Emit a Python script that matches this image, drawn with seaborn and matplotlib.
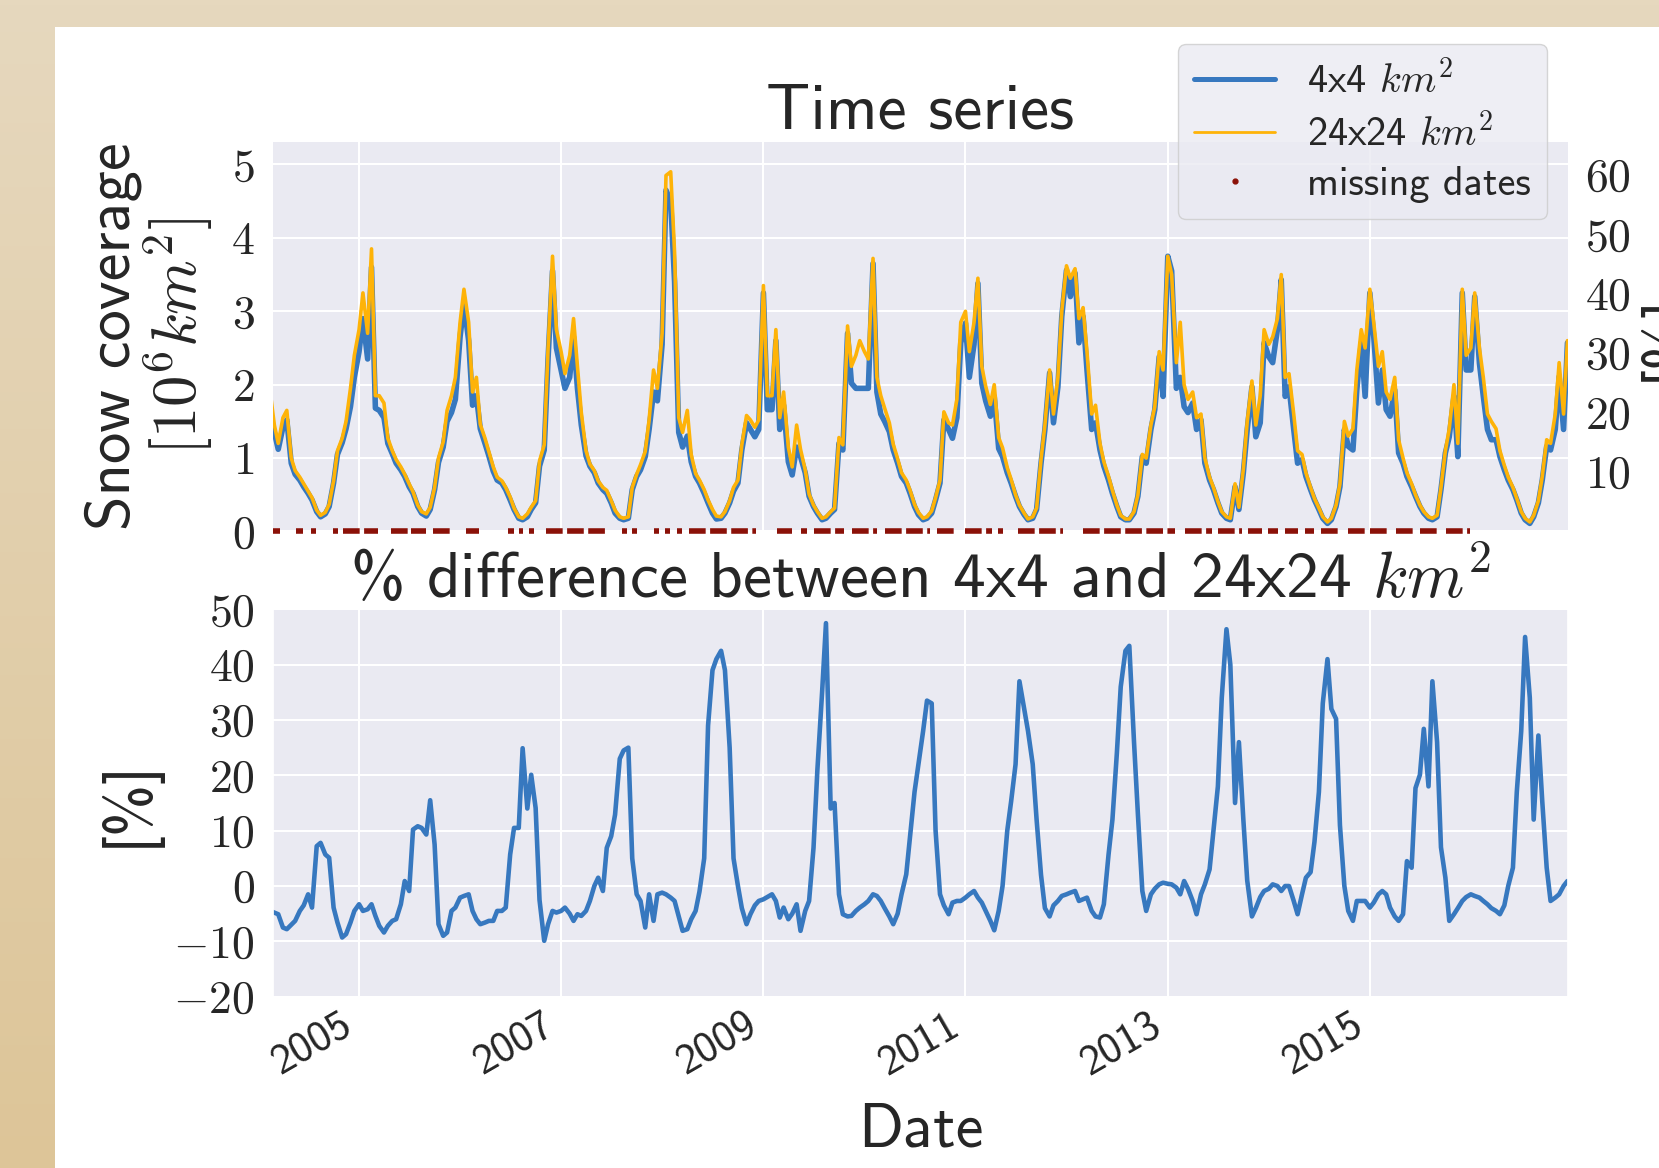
import numpy as np
import pandas as pd
import matplotlib
matplotlib.use("Agg")
import matplotlib.pyplot as plt
from matplotlib.lines import Line2D
from matplotlib.patches import Rectangle
import seaborn as sns

# ------------------------------------------------------------------ data
# semi-monthly samples (1st and 15th of each month)
dates = pd.date_range("2004-02-15", "2016-12-15", freq="SMS")

snow_24x24 = [
    # 2004 (from Feb 15)
    1.90, 1.45, 1.20, 1.55, 1.65, 1.00, 0.83, 0.74, 0.65, 0.55, 0.46, 0.29, 0.22, 0.26, 0.37, 0.69, 1.10, 1.27, 1.50, 1.95, 2.40,
    # 2005
    2.75, 3.25, 2.70, 3.85, 1.85, 1.85, 1.75, 1.27, 1.10, 0.98, 0.88, 0.78, 0.65, 0.54, 0.36, 0.27, 0.24, 0.33, 0.60, 1.00, 1.22, 1.65, 1.85, 2.10,
    # 2006
    2.85, 3.30, 2.85, 1.90, 2.10, 1.46, 1.27, 1.09, 0.88, 0.74, 0.69, 0.60, 0.47, 0.32, 0.20, 0.18, 0.24, 0.33, 0.42, 0.96, 1.18, 2.50, 3.75, 2.75,
    # 2007
    2.45, 2.15, 2.40, 2.90, 2.25, 1.62, 1.10, 0.92, 0.83, 0.69, 0.60, 0.56, 0.42, 0.29, 0.20, 0.18, 0.20, 0.60, 0.78, 0.91, 1.09, 1.52, 2.20, 1.95,
    # 2008
    2.70, 4.85, 4.90, 3.80, 1.55, 1.35, 1.65, 1.05, 0.79, 0.70, 0.57, 0.43, 0.30, 0.21, 0.20, 0.27, 0.42, 0.60, 0.70, 1.18, 1.58, 1.52, 1.42, 1.52,
    # 2009
    3.35, 1.85, 1.85, 2.75, 1.55, 1.90, 1.15, 0.88, 1.45, 1.12, 0.84, 0.51, 0.36, 0.27, 0.18, 0.20, 0.27, 0.32, 1.28, 1.18, 2.80, 2.25, 2.40, 2.60,
    # 2010
    2.45, 2.35, 3.72, 2.10, 1.85, 1.68, 1.48, 1.19, 0.99, 0.80, 0.70, 0.56, 0.37, 0.26, 0.18, 0.20, 0.28, 0.46, 0.70, 1.63, 1.48, 1.45, 1.80, 2.85,
    # 2011
    3.00, 2.45, 2.85, 3.45, 2.25, 1.98, 1.73, 2.00, 1.28, 1.14, 0.87, 0.71, 0.50, 0.36, 0.25, 0.17, 0.20, 0.32, 0.98, 1.45, 2.20, 1.60, 2.10, 3.00,
    # 2012
    3.62, 3.45, 3.58, 2.90, 3.05, 2.45, 1.60, 1.72, 1.20, 0.95, 0.75, 0.56, 0.36, 0.22, 0.17, 0.17, 0.27, 0.50, 1.05, 1.00, 1.45, 1.70, 2.45, 2.20,
    # 2013
    3.75, 3.50, 2.30, 2.85, 2.00, 1.80, 1.90, 1.55, 1.60, 1.00, 0.74, 0.60, 0.41, 0.27, 0.20, 0.18, 0.65, 0.33, 0.85, 1.50, 2.05, 1.45, 1.85, 2.75,
    # 2014
    2.55, 2.65, 2.90, 3.50, 2.10, 2.15, 1.60, 1.10, 1.05, 0.80, 0.60, 0.45, 0.32, 0.20, 0.13, 0.18, 0.36, 0.65, 1.50, 1.30, 1.40, 2.20, 2.75, 2.50,
    # 2015
    3.30, 2.85, 2.25, 2.45, 1.90, 1.80, 2.10, 1.25, 1.00, 0.80, 0.65, 0.50, 0.36, 0.27, 0.20, 0.18, 0.22, 0.60, 1.10, 1.40, 2.00, 1.20, 3.30, 2.40,
    # 2016
    2.50, 3.25, 2.50, 2.10, 1.60, 1.50, 1.40, 1.10, 0.90, 0.74, 0.60, 0.45, 0.27, 0.18, 0.13, 0.22, 0.42, 0.75, 1.25, 1.20, 1.60, 2.30, 1.60, 2.60,
]

snow_4x4 = [
    # 2004 (from Feb 15)
    1.50, 1.35, 1.12, 1.42, 1.52, 0.93, 0.78, 0.70, 0.61, 0.52, 0.43, 0.27, 0.20, 0.24, 0.34, 0.66, 1.05, 1.21, 1.40, 1.70, 2.10,
    # 2005
    2.45, 2.90, 2.35, 3.60, 1.68, 1.65, 1.55, 1.20, 1.06, 0.93, 0.84, 0.75, 0.61, 0.52, 0.34, 0.25, 0.21, 0.30, 0.57, 0.94, 1.15, 1.50, 1.62, 1.80,
    # 2006
    2.65, 3.10, 2.60, 1.72, 1.85, 1.40, 1.20, 1.03, 0.82, 0.70, 0.66, 0.57, 0.43, 0.30, 0.18, 0.16, 0.20, 0.30, 0.39, 0.89, 1.11, 2.36, 3.55, 2.50,
    # 2007
    2.20, 1.95, 2.10, 2.65, 1.95, 1.45, 1.03, 0.89, 0.80, 0.66, 0.57, 0.52, 0.39, 0.25, 0.18, 0.16, 0.18, 0.57, 0.75, 0.84, 1.02, 1.39, 1.90, 1.78,
    # 2008
    2.55, 4.65, 4.50, 3.40, 1.35, 1.15, 1.30, 0.95, 0.75, 0.66, 0.52, 0.39, 0.25, 0.17, 0.18, 0.25, 0.39, 0.55, 0.66, 1.11, 1.48, 1.39, 1.29, 1.39,
    # 2009
    3.25, 1.66, 1.66, 2.60, 1.39, 1.72, 0.95, 0.77, 1.15, 1.02, 0.80, 0.48, 0.34, 0.25, 0.16, 0.18, 0.25, 0.30, 1.20, 1.11, 2.70, 2.02, 1.95, 1.95,
    # 2010
    1.95, 1.95, 3.65, 1.90, 1.60, 1.50, 1.36, 1.11, 0.93, 0.75, 0.66, 0.52, 0.34, 0.23, 0.16, 0.18, 0.25, 0.43, 0.66, 1.52, 1.39, 1.27, 1.55, 2.57,
    # 2011
    2.84, 2.10, 2.55, 3.38, 2.02, 1.78, 1.57, 1.84, 1.13, 1.02, 0.80, 0.66, 0.48, 0.34, 0.23, 0.16, 0.18, 0.30, 0.93, 1.39, 2.16, 1.48, 1.97, 2.93,
    # 2012
    3.56, 3.20, 3.52, 2.57, 2.93, 2.20, 1.39, 1.48, 1.11, 0.89, 0.70, 0.52, 0.34, 0.20, 0.16, 0.16, 0.25, 0.48, 1.02, 0.93, 1.39, 1.66, 2.38, 1.84,
    # 2013
    3.75, 3.55, 1.95, 2.10, 1.70, 1.62, 1.75, 1.39, 1.52, 0.93, 0.70, 0.57, 0.39, 0.25, 0.18, 0.16, 0.61, 0.30, 0.80, 1.39, 1.97, 1.29, 1.48, 2.57,
    # 2014
    2.38, 2.30, 2.75, 3.43, 1.84, 1.97, 1.39, 0.93, 0.98, 0.75, 0.57, 0.43, 0.30, 0.18, 0.11, 0.16, 0.34, 0.61, 1.39, 1.16, 1.11, 1.93, 2.57, 1.84,
    # 2015
    3.25, 2.66, 1.75, 2.20, 1.66, 1.57, 1.93, 1.07, 0.93, 0.75, 0.61, 0.48, 0.34, 0.25, 0.18, 0.16, 0.20, 0.57, 1.07, 1.29, 1.84, 1.02, 3.25, 2.20,
    # 2016
    2.20, 3.20, 2.29, 1.84, 1.39, 1.25, 1.25, 1.02, 0.84, 0.70, 0.57, 0.43, 0.25, 0.16, 0.11, 0.20, 0.39, 0.70, 1.16, 1.11, 1.39, 2.11, 1.39, 2.57,
]

pct_diff = [
    # 2004 (from Feb 15)
    -4.5, -4.8, -5.1, -7.5, -7.8, -7.0, -6.3, -4.5, -3.5, -1.5, -3.9, 7.2, 7.8, 5.7, 5.1, -3.9, -6.6, -9.3, -8.7, -6.6, -4.5,
    # 2005
    -3.3, -4.5, -4.2, -3.3, -5.4, -7.2, -8.4, -7.2, -6.3, -6.0, -3.3, 0.9, -0.9, 10.2, 10.8, 10.5, 9.3, 15.5, 7.5, -6.9, -9.0, -8.4, -4.5, -3.9,
    # 2006
    -2.1, -1.8, -1.5, -4.5, -6.0, -6.9, -6.6, -6.3, -6.3, -4.5, -4.5, -3.9, 5.7, 10.5, 10.5, 24.9, 14.0, 20.1, 14.1, -2.5, -9.9, -6.9, -4.5, -4.8,
    # 2007
    -4.5, -3.9, -5.0, -6.3, -5.1, -5.4, -4.5, -2.7, 0.0, 1.5, -0.9, 6.9, 9.0, 12.9, 23.0, 24.5, 25.0, 5.0, -1.5, -2.7, -7.5, -1.5, -6.3, -1.5,
    # 2008
    -1.2, -1.5, -2.1, -2.7, -5.5, -8.1, -7.8, -6.0, -4.5, -1.0, 5.0, 29.0, 39.0, 41.0, 42.5, 39.0, 25.0, 5.0, 0.0, -4.0, -6.9, -5.1, -3.5, -2.7,
    # 2009
    -2.4, -2.0, -1.5, -2.7, -5.7, -3.9, -6.0, -5.0, -3.3, -8.1, -4.5, -2.7, 6.9, 21.0, 35.0, 47.5, 14.0, 15.0, -1.5, -5.1, -5.5, -5.4, -4.5, -3.9,
    # 2010
    -3.3, -2.7, -1.5, -1.8, -2.7, -4.0, -5.5, -6.9, -5.0, -1.5, 2.1, 9.0, 17.0, 22.0, 28.0, 33.5, 33.0, 10.0, -1.5, -3.5, -5.1, -3.0, -2.7, -2.7,
    # 2011
    -2.1, -1.5, -0.9, -2.1, -3.0, -4.5, -6.3, -8.0, -4.5, 0.0, 10.0, 15.3, 22.0, 37.0, 32.0, 28.0, 22.0, 12.0, 2.0, -4.0, -5.5, -3.5, -2.7, -1.8,
    # 2012
    -1.5, -1.2, -0.9, -2.7, -2.4, -2.1, -4.5, -5.5, -5.7, -3.3, 5.7, 12.0, 24.0, 36.0, 42.5, 43.4, 26.0, 13.0, -0.9, -4.5, -1.5, -0.5, 0.3, 0.6,
    # 2013
    0.4, 0.3, -0.3, -1.5, 0.9, -0.5, -2.7, -5.1, -1.5, 0.3, 3.0, 10.0, 18.0, 34.0, 46.4, 40.0, 15.0, 26.0, 12.0, 1.0, -5.5, -4.0, -2.0, -0.9,
    # 2014
    -0.5, 0.3, 0.0, -0.9, 0.0, 0.0, -2.7, -5.1, -1.5, 1.5, 2.5, 8.0, 17.0, 33.0, 41.0, 32.0, 30.2, 11.0, 0.0, -4.5, -6.3, -2.7, -2.7, -2.7,
    # 2015
    -3.9, -3.0, -1.5, -0.9, -1.5, -3.9, -5.5, -6.3, -5.1, 4.5, 3.3, 17.7, 20.1, 28.4, 18.0, 37.0, 26.0, 7.0, 1.5, -6.3, -5.1, -4.0, -2.7, -2.0,
    # 2016
    -1.5, -1.8, -2.1, -2.7, -3.3, -4.0, -4.5, -5.1, -3.5, 0.0, 3.3, 17.0, 28.0, 45.0, 34.0, 12.0, 27.2, 15.3, 3.3, -2.7, -2.1, -1.5, 0.0, 0.9,
]

# runs of missing dates (decimal years: start / end)
missing_start = [2004.148, 2004.375, 2004.530, 2004.743, 2004.842, 2005.319, 2005.516, 2005.730,
                 2006.059, 2006.470, 2006.586, 2006.684, 2006.849, 2007.605, 2007.704, 2007.918,
                 2008.033, 2008.148, 2008.263, 2009.138, 2009.368, 2009.500, 2009.878, 2010.207,
                 2010.717, 2010.997, 2011.326, 2011.523, 2012.164, 2013.174, 2013.502, 2013.797,
                 2013.993, 2014.157, 2014.354, 2014.518, 2014.780, 2015.000, 2015.260, 2015.500,
                 2015.750]
missing_end = [2004.217, 2004.447, 2004.579, 2004.793, 2005.188, 2005.484, 2005.664, 2005.944,
               2006.191, 2006.536, 2006.618, 2006.734, 2007.441, 2007.655, 2007.753, 2007.967,
               2008.082, 2008.197, 2008.924, 2009.286, 2009.434, 2009.796, 2010.125, 2010.651,
               2010.931, 2011.260, 2011.375, 2011.967, 2013.075, 2013.436, 2013.731, 2013.928,
               2014.092, 2014.289, 2014.452, 2014.682, 2014.950, 2015.200, 2015.450, 2015.700,
               2015.993]

year_labels = ["2005", "2007", "2009", "2011", "2013", "2015"]
snow_ticks = [0, 1, 2, 3, 4, 5]
pct_right_ticks = [10, 20, 30, 40, 50, 60]
pct_ticks = [-20, -10, 0, 10, 20, 30, 40, 50]
legend_labels = ["4x4 $km^2$", "24x24 $km^2$", "missing dates"]

# ------------------------------------------------------------------ style
BLUE = "#3778bf"
ORANGE = "#feb308"
DARKRED = "#8b1108"

sns.set_theme(style="darkgrid")
plt.rcParams["font.family"] = ["cmss10", "DejaVu Sans"]
plt.rcParams["mathtext.fontset"] = "cm"
plt.rcParams["grid.linewidth"] = 1.5
plt.rcParams["axes.unicode_minus"] = False


def dec_year(y):
    yr = int(np.floor(y))
    start = pd.Timestamp(year=yr, month=1, day=1)
    end = pd.Timestamp(year=yr + 1, month=1, day=1)
    return start + (end - start) * (y - yr)


df = pd.DataFrame({"date": dates, "km4": snow_4x4, "km24": snow_24x24, "diff": pct_diff})
miss_s = [dec_year(v) for v in missing_start]
miss_e = [dec_year(v) for v in missing_end]

W, H = 1659, 1168
fig = plt.figure(figsize=(W / 100, H / 100), dpi=100)

# slide background: tan gradient frame + white page
bg = fig.add_axes([0, 0, 1, 1], zorder=-10)
g = np.linspace(0, 1, 256)[:, None, None]
top_c = np.array([230, 216, 190]) / 255
bot_c = np.array([221, 197, 152]) / 255
img = top_c[None, None, :] * (1 - g) + bot_c[None, None, :] * g
bg.imshow(img, aspect="auto", extent=[0, 1, 0, 1], origin="upper")
bg.add_patch(Rectangle((55 / W, 0), 1, 1 - 26.5 / H, color="white", lw=0))
bg.set_xlim(0, 1)
bg.set_ylim(0, 1)
bg.set_axis_off()

L = 272.7 / W
R = 1568.0 / W
ax1 = fig.add_axes([L, 1 - 531.5 / H, R - L, (531.5 - 141.7) / H])
ax2 = fig.add_axes([L, 1 - 996.7 / H, R - L, (996.7 - 609.3) / H], sharex=ax1)

# ---------------- top panel
sns.lineplot(data=df, x="date", y="km4", ax=ax1, color=BLUE, lw=4.0, legend=False)
sns.lineplot(data=df, x="date", y="km24", ax=ax1, color=ORANGE, lw=2.6, legend=False)

ax1.set_xlim(pd.Timestamp("2004-02-24"), pd.Timestamp("2016-12-17"))
ax1.set_ylim(0, 5.31)
ax1.set_yticks(snow_ticks, labels=[f"${v}$" for v in snow_ticks])
ax1.tick_params(axis="y", labelsize=33, pad=13, length=0)
ax1.tick_params(axis="x", labelbottom=False, length=0)
ax1.set_xlabel("")
ax1.set_ylabel("Snow coverage\n$[10^6 km^2]$", fontsize=45, linespacing=1.0)
ax1.yaxis.set_label_coords(-0.0437, 0.5)
ax1.set_title("Time series", fontsize=47, pad=9)

ax1r = ax1.twinx()
ax1r.set_ylim(0, 65.6)
ax1r.set_yticks(pct_right_ticks, labels=[f"${v}$" for v in pct_right_ticks])
ax1r.grid(False)
for sp in ax1r.spines.values():
    sp.set_visible(False)
ax1r.tick_params(axis="y", labelsize=33, pad=12, length=0)
ax1r.set_ylabel("[%]", fontsize=45)
ax1r.yaxis.set_label_coords(1.0525, 0.5)

# missing dates drawn on the twin (top-most) axes, at snow value 0 of the left scale
ax1.hlines(np.zeros(len(miss_s)), miss_s, miss_e, colors=DARKRED, lw=4.0,
           linestyles=(0, (3.0, 0.8)), clip_on=False, zorder=4)
for sp in ax1.spines.values():
    sp.set_visible(False)

handles = [Line2D([], [], color=BLUE, lw=3.6),
           Line2D([], [], color=ORANGE, lw=2.0),
           Line2D([], [], ls="", marker="o", ms=3.5, color=DARKRED)]
ax1r.legend(handles, legend_labels, loc="upper right",
            bbox_to_anchor=(1547 / W, 1 - 44.4 / H), bbox_transform=fig.transFigure,
            borderaxespad=0, fontsize=29, handlelength=2.0, labelspacing=0.3,
            borderpad=0.4, handletextpad=0.8)

# ---------------- bottom panel
sns.lineplot(data=df, x="date", y="diff", ax=ax2, color=BLUE, lw=3.3, legend=False)
ax2.set_ylim(-20, 50)
ax2.set_yticks(pct_ticks, labels=[f"${v}$" for v in pct_ticks])
ax2.tick_params(axis="y", labelsize=33, pad=13, length=0)
ax2.set_xticks(pd.to_datetime([f"{y}-01-01" for y in year_labels]), labels=year_labels,
               rotation=30, ha="right")
ax2.tick_params(axis="x", labelsize=31, pad=7, length=0)
ax2.set_title("% difference between 4x4 and 24x24 $km^2$", fontsize=47, pad=9)
ax2.set_ylabel("[%]", fontsize=45)
ax2.yaxis.set_label_coords(-0.087, 0.5)
ax2.set_xlabel("Date", fontsize=45)
ax2.xaxis.set_label_coords(0.5, -0.272)

fig.savefig("out.png", dpi=100)
